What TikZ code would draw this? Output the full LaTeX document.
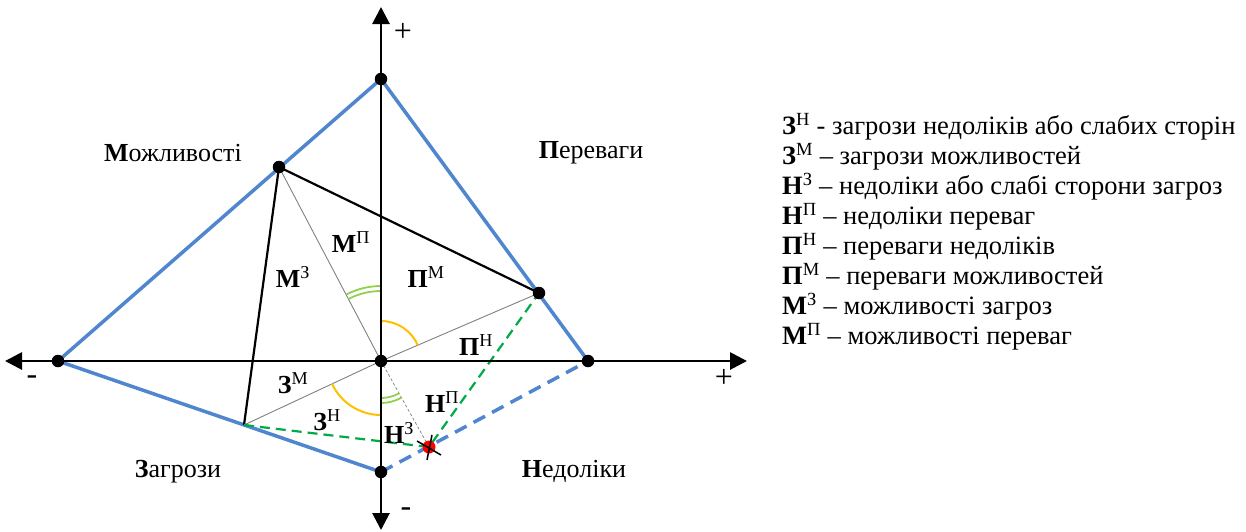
\documentclass[tikz,border=0pt]{standalone}
\usepackage{fontspec}
\setmainfont{Liberation Serif}
\usetikzlibrary{arrows.meta}
\definecolor{sblue}{RGB}{79,134,206}
\definecolor{dgreen}{RGB}{0,170,70}
\definecolor{lgreen}{RGB}{146,208,80}
\definecolor{amber}{RGB}{255,192,0}
\begin{document}
\begin{tikzpicture}[x=1pt,y=-1pt,
  dot/.style={circle,fill=black,inner sep=0pt,minimum size=12.5pt},
  axisline/.style={line width=2.8pt,{Triangle[length=17pt,width=17pt]}-{Triangle[length=17pt,width=17pt]}},
  bluebdr/.style={sblue,line width=3.5pt},
  bluedash/.style={sblue,line width=3.5pt,dash pattern=on 13pt off 8pt},
  blackln/.style={black,line width=2.2pt},
  grayln/.style={gray,line width=0.9pt},
  graydash/.style={gray,line width=0.7pt,dash pattern=on 3pt off 2pt},
  greendash/.style={dgreen,line width=2.2pt,dash pattern=on 10pt off 6pt},
  yarc/.style={amber,line width=2pt},
  garc/.style={lgreen,line width=1.8pt},
  lbl/.style={font=\fontsize{26}{30}\selectfont,inner sep=0pt},
  sgn/.style={font=\fontsize{32}{36}\selectfont,inner sep=0pt},
  leg/.style={font=\fontsize{26.5}{30}\selectfont,inner sep=0pt,anchor=west}]
\useasboundingbox (0,0) rectangle (1246,531);
% points
\coordinate (O) at (381,361);
\coordinate (Yt) at (381,7);
\coordinate (Yb) at (381,530);
\coordinate (Xl) at (5,361);
\coordinate (Xr) at (747,361);
\coordinate (T) at (381,79);
\coordinate (L) at (58,361);
\coordinate (R) at (588,361);
\coordinate (B) at (381,472);
\coordinate (M) at (279,167);
\coordinate (P) at (539,293);
\coordinate (Z) at (244,425);
\coordinate (X) at (429,447);
% blue quadrilateral
\draw[bluebdr,line join=round] (B) -- (L) -- (T) -- (R);
\draw[bluedash] (B) -- (R);
% black triangle sides
\draw[blackln] (Z) -- (M) -- (P);
% thin gray lines
\draw[grayln] (M) -- (O);
\draw[grayln] (Z) -- (O) -- (P);
\draw[graydash] (O) -- (X);
% green dashed
\draw[greendash] (Z) -- (X) -- (P);
% angle arcs
\draw[yarc] (O) ++(-90:40) arc[start angle=-90,end angle=-23.5,radius=40];
\draw[yarc] (O) ++(90:54) arc[start angle=90,end angle=155,radius=54];
\draw[garc] (O) ++(-117.4:70) arc[start angle=-117.4,end angle=-90,radius=70];
\draw[garc] (O) ++(-117.4:75) arc[start angle=-117.4,end angle=-90,radius=75];
\draw[garc] (O) ++(60.6:37) arc[start angle=60.6,end angle=90,radius=37];
\draw[garc] (O) ++(60.6:42) arc[start angle=60.6,end angle=90,radius=42];
% axes
\draw[axisline] (Xl) -- (Xr);
\draw[axisline] (Yb) -- (Yt);
% dots
\node[dot] (dT) at (T) {};
\node[dot] (dL) at (L) {};
\node[dot] (dR) at (R) {};
\node[dot] (dB) at (B) {};
\node[dot] (dM) at (M) {};
\node[dot] (dP) at (P) {};
\node[dot] (dO) at (O) {};
\node[circle,fill=red,inner sep=0pt,minimum size=13pt] (dX) at (X) {};
\draw[black,line width=1.5pt] ([shift={(-12,-6)}]X) -- ([shift={(12,8)}]X);
\draw[black,line width=1.5pt] ([shift={(3,-12)}]X) -- ([shift={(-2,13)}]X);
% signs
\node[sgn] (sp1) at (403,32) {+};
\node[sgn] (sp2) at (724,378) {+};
\node[sgn] (sm1) at (32,380) {-};
\node[sgn] (sm2) at (406,512) {-};
% quadrant labels
\node[lbl] (qM) at (173,153) {\textbf{М}ожливості};
\node[lbl] (qP) at (591,153) {\textbf{П}ереваги};
\node[lbl] (qZ) at (178,472) {\textbf{З}агрози};
\node[lbl] (qN) at (574,471) {\textbf{Н}едоліки};
% interior labels
\node[lbl] (iMP) at (351,242) {\textbf{М}\textsuperscript{П}};
\node[lbl] (iMZ) at (293,277) {\textbf{М}\textsuperscript{З}};
\node[lbl] (iPM) at (426,277) {\textbf{П}\textsuperscript{М}};
\node[lbl] (iPN) at (476,345) {\textbf{П}\textsuperscript{Н}};
\node[lbl] (iZM) at (293,383) {\textbf{З}\textsuperscript{М}};
\node[lbl] (iZN) at (327,420) {\textbf{З}\textsuperscript{Н}};
\node[lbl] (iNZ) at (399,433) {\textbf{Н}\textsuperscript{З}};
\node[lbl] (iNP) at (442,402) {\textbf{Н}\textsuperscript{П}};
% legend
\node[leg] (g1) at (782,127) {\textbf{З}\textsuperscript{Н} - загрози недоліків або слабих сторін};
\node[leg] (g2) at (782,157) {\textbf{З}\textsuperscript{М} – загрози можливостей};
\node[leg] (g3) at (782,187) {\textbf{Н}\textsuperscript{З} – недоліки або слабі сторони загроз};
\node[leg] (g4) at (782,217) {\textbf{Н}\textsuperscript{П} – недоліки переваг};
\node[leg] (g5) at (782,247) {\textbf{П}\textsuperscript{Н} – переваги недоліків};
\node[leg] (g6) at (782,277) {\textbf{П}\textsuperscript{М} – переваги можливостей};
\node[leg] (g7) at (782,307) {\textbf{М}\textsuperscript{З} – можливості загроз};
\node[leg] (g8) at (782,337) {\textbf{М}\textsuperscript{П} – можливості переваг};
\end{tikzpicture}
\end{document}
